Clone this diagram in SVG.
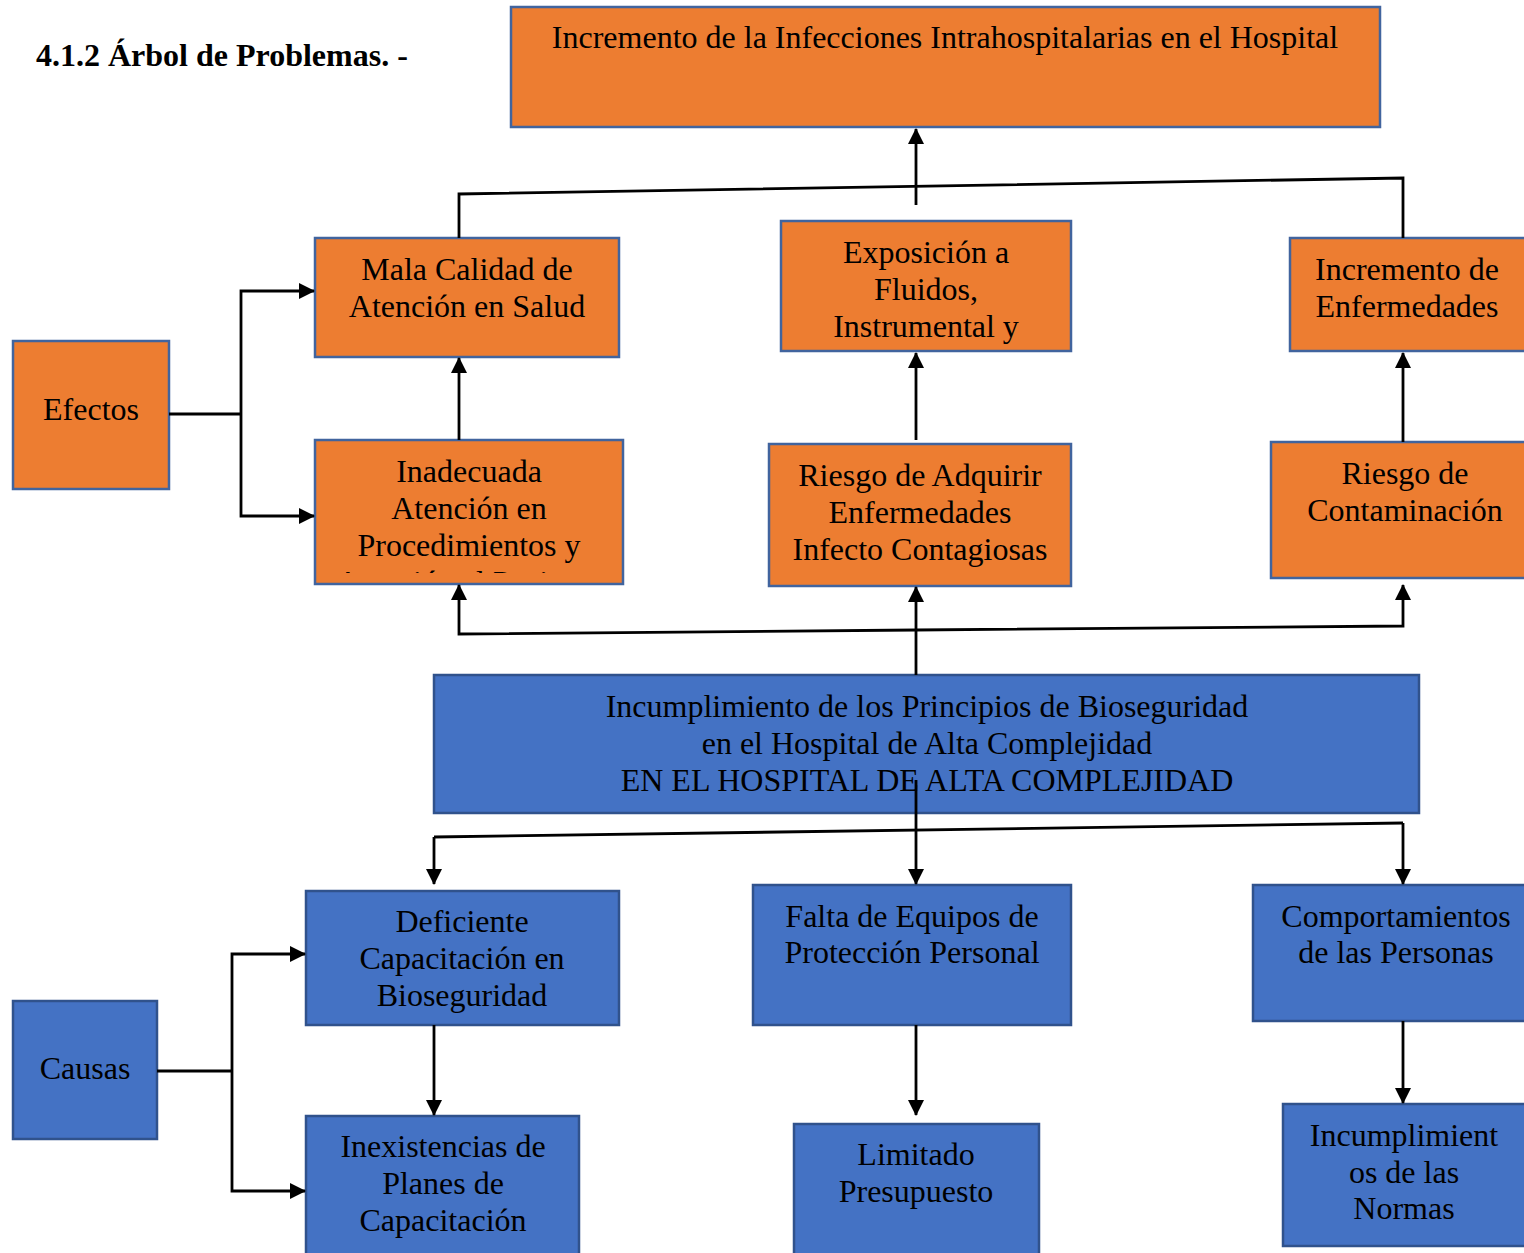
<svg xmlns="http://www.w3.org/2000/svg" width="1524" height="1253" viewBox="0 0 1524 1253">
<style>
.o{fill:#ED7D31;stroke:#41649E;stroke-width:2.5}
.b{fill:#4472C4;stroke:#30528C;stroke-width:2.5}
.t{font-family:"Liberation Serif","Times New Roman",serif;font-size:32px;fill:#000;text-anchor:middle}
.h{font-family:"Liberation Serif","Times New Roman",serif;font-size:32px;font-weight:bold;fill:#000}
.c{fill:none;stroke:#000;stroke-width:2.8}
.a{fill:none;stroke:#000;stroke-width:2.8;marker-end:url(#ar)}
</style>
<defs>
<marker id="ar" viewBox="0 0 16 16" refX="15" refY="8" markerWidth="16" markerHeight="16" orient="auto" markerUnits="userSpaceOnUse">
<path d="M0,0 L16,8 L0,16 Z" fill="#000"/>
</marker>
<clipPath id="clipInad"><rect x="316" y="441" width="306" height="132"/></clipPath>
</defs>
<rect width="1524" height="1253" fill="#fff"/>
<text class="h" x="36" y="66">4.1.2 Árbol de Problemas. -</text>

<g id="n-top"><rect class="o" x="511" y="7" width="869" height="120"/>
<text class="t" x="945" y="48">Incremento de la Infecciones Intrahospitalarias en el Hospital</text></g>

<g id="n-mala"><rect class="o" x="315" y="238" width="304" height="119"/>
<text class="t" x="467" y="280">Mala Calidad de</text><text class="t" x="467" y="317">Atención en Salud</text></g>

<g id="n-expo"><rect class="o" x="781" y="221" width="290" height="130"/>
<text class="t" x="926" y="263">Exposición a</text><text class="t" x="926" y="300">Fluidos,</text><text class="t" x="926" y="337">Instrumental y</text></g>

<g id="n-incenf"><rect class="o" x="1290" y="238" width="240" height="113"/>
<text class="t" x="1407" y="280">Incremento de</text><text class="t" x="1407" y="317">Enfermedades</text></g>

<g id="n-efectos"><rect class="o" x="13" y="341" width="156" height="148"/>
<text class="t" x="91" y="420">Efectos</text></g>

<g id="n-inad"><rect class="o" x="315" y="440" width="308" height="144"/>
<g clip-path="url(#clipInad)">
<text class="t" x="469" y="482">Inadecuada</text><text class="t" x="469" y="519">Atención en</text><text class="t" x="469" y="556">Procedimientos y</text><text class="t" x="469" y="593">Atención al Paciente</text></g></g>

<g id="n-riesgoadq"><rect class="o" x="769" y="444" width="302" height="142"/>
<text class="t" x="920" y="486">Riesgo de Adquirir</text><text class="t" x="920" y="523">Enfermedades</text><text class="t" x="920" y="560">Infecto Contagiosas</text></g>

<g id="n-riesgocont"><rect class="o" x="1271" y="442" width="260" height="136"/>
<text class="t" x="1405" y="484">Riesgo de</text><text class="t" x="1405" y="521">Contaminación</text></g>

<g id="n-center"><rect class="b" x="434" y="675" width="985" height="138"/>
<text class="t" x="927" y="717">Incumplimiento de los Principios de Bioseguridad</text>
<text class="t" x="927" y="754">en el Hospital de Alta Complejidad</text>
<text class="t" x="927" y="791">EN EL HOSPITAL DE ALTA COMPLEJIDAD</text></g>

<g id="n-deficiente"><rect class="b" x="306" y="891" width="313" height="134"/>
<text class="t" x="462" y="932">Deficiente</text><text class="t" x="462" y="969">Capacitación en</text><text class="t" x="462" y="1006">Bioseguridad</text></g>

<g id="n-falta"><rect class="b" x="753" y="885" width="318" height="140"/>
<text class="t" x="912" y="927">Falta de Equipos de</text><text class="t" x="912" y="963">Protección Personal</text></g>

<g id="n-comport"><rect class="b" x="1253" y="885" width="278" height="136"/>
<text class="t" x="1396" y="927">Comportamientos</text><text class="t" x="1396" y="963">de las Personas</text></g>

<g id="n-causas"><rect class="b" x="13" y="1001" width="144" height="138"/>
<text class="t" x="85" y="1079">Causas</text></g>

<g id="n-inexist"><rect class="b" x="306" y="1116" width="273" height="145"/>
<text class="t" x="443" y="1157">Inexistencias de</text><text class="t" x="443" y="1194">Planes de</text><text class="t" x="443" y="1231">Capacitación</text></g>

<g id="n-limitado"><rect class="b" x="794" y="1124" width="245" height="137"/>
<text class="t" x="916" y="1165">Limitado</text><text class="t" x="916" y="1202">Presupuesto</text></g>

<g id="n-incnormas"><rect class="b" x="1283" y="1104" width="248" height="142"/>
<text class="t" x="1404" y="1146">Incumplimient</text><text class="t" x="1404" y="1183">os de las</text><text class="t" x="1404" y="1219">Normas</text></g>

<g id="connectors">
<path class="a" d="M916,205 L916,129"/>
<path class="c" d="M459,238 L459,194 L1403,178 L1403,238"/>
<path class="c" d="M169,414 L241,414"/>
<path class="a" d="M241,414 L241,291 L314,291"/>
<path class="a" d="M241,414 L241,516 L314,516"/>
<path class="a" d="M459,440 L459,358"/>
<path class="a" d="M916,440 L916,353"/>
<path class="a" d="M1403,442 L1403,353"/>
<path class="a" d="M916,675 L916,587"/>
<path class="a" d="M916,630 L459,634 L459,585"/>
<path class="a" d="M916,630 L1403,626 L1403,585"/>
<path class="a" d="M916,780 L916,884"/>
<path class="c" d="M434,837 L1403,823"/>
<path class="a" d="M434,837 L434,884"/>
<path class="a" d="M1403,823 L1403,884"/>
<path class="c" d="M157,1071 L232,1071"/>
<path class="a" d="M232,1071 L232,954 L305,954"/>
<path class="a" d="M232,1071 L232,1191 L305,1191"/>
<path class="a" d="M434,1025 L434,1115"/>
<path class="a" d="M916,1025 L916,1115"/>
<path class="a" d="M1403,1021 L1403,1103"/>
</g>
</svg>
